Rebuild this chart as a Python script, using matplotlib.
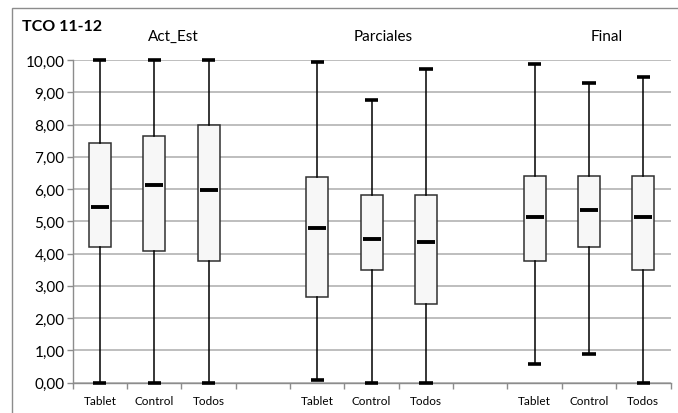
import matplotlib.pyplot as plt
from matplotlib.patches import Rectangle
import numpy as np

plt.rcParams['font.family'] = ['Lato', 'DejaVu Sans']

# five-number summaries (min, q1, median, q3, max)
groups = ["Act_Est", "Parciales", "Final"]
subgroups = ["Tablet", "Control", "Todos"]
mins = [0.00, 0.00, 0.00, 0.08, 0.00, 0.00, 0.58, 0.88, 0.00]
q1s = [4.19, 4.07, 3.77, 2.67, 3.49, 2.45, 3.77, 4.19, 3.49]
medians = [5.46, 6.12, 5.98, 4.78, 4.46, 4.37, 5.15, 5.36, 5.15]
q3s = [7.43, 7.63, 8.00, 6.37, 5.82, 5.82, 6.41, 6.41, 6.41]
maxs = [10.00, 10.00, 10.00, 9.93, 8.77, 9.71, 9.89, 9.29, 9.48]
yticks = np.arange(0, 11, 1)

# slots 1..11, slot 4 and 8 empty between groups
positions = [1, 2, 3, 5, 6, 7, 9, 10, 11]
labels = subgroups * 3

W, H = 678, 414
fig = plt.figure(figsize=(W / 100, H / 100), dpi=100)
ax = fig.add_axes([72.8 / W, 30.3 / H, (670.5 - 72.8) / W, (383.7 - 61) / H])

stats = []
for i in range(len(positions)):
    stats.append({"whislo": mins[i], "q1": q1s[i], "med": medians[i],
                  "q3": q3s[i], "whishi": maxs[i], "fliers": []})

bp = ax.bxp(stats, positions=positions, widths=0.405, capwidths=0.24,
            patch_artist=True, showfliers=False,
            boxprops=dict(facecolor="#f7f7f7", edgecolor="#303030", linewidth=1.1),
            whiskerprops=dict(color="black", linewidth=1.1),
            capprops=dict(color="black", linewidth=2.6, solid_capstyle="butt"),
            medianprops=dict(linewidth=0))
for c in bp["caps"]:
    c.set_clip_on(False)
    c.set_zorder(5)
ax.hlines(medians, np.array(positions) - 0.165, np.array(positions) + 0.165,
          color="black", linewidth=2.8, zorder=5)

ax.set_xlim(0.5, 11.5)
ax.set_ylim(0, 10)
ax.set_yticks(yticks)
ax.yaxis.set_major_formatter(plt.FuncFormatter(lambda v, p: ("%.2f" % v).replace(".", ",")))
ax.set_xticks(positions)
ax.set_xticklabels(labels)
ax.set_xticks(np.arange(0.5, 12, 1), minor=True)
ax.tick_params(axis="x", which="major", length=0, pad=9, labelsize=8.5, colors="black")
ax.tick_params(axis="x", which="minor", length=4, color="#8c8c8c", width=1)
ax.tick_params(axis="y", length=4, color="#8c8c8c", width=1, pad=2, labelsize=11)

ax.grid(axis="y", color="#b3b3b3", linewidth=1.2)
ax.set_axisbelow(True)
for s in ["top", "right"]:
    ax.spines[s].set_visible(False)
for s in ["left", "bottom"]:
    ax.spines[s].set_color("#8c8c8c")
    ax.spines[s].set_linewidth(1)

fig.text(22 / W, 1 - 27 / H, "TCO 11-12", fontsize=11.5, fontweight="bold", va="center")
fig.text(173 / W, 1 - 37 / H, groups[0], fontsize=11, ha="center", va="center")
fig.text(383 / W, 1 - 37 / H, groups[1], fontsize=11, ha="center", va="center")
fig.text(607 / W, 1 - 37 / H, groups[2], fontsize=11, ha="center", va="center")

# chart border (cut off at right and bottom)
fig.patches.append(Rectangle((11.7 / W, -0.1), 1.2, 1.1 - 9.3 / H,
                             transform=fig.transFigure, fill=False,
                             edgecolor="#8c8c8c", linewidth=1))

fig.savefig("out.png", dpi=100)
